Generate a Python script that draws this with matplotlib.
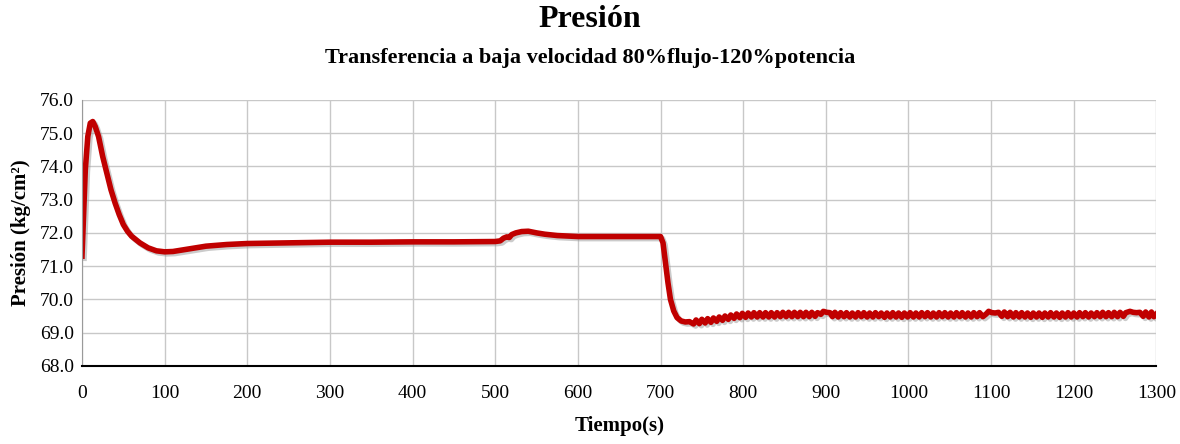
import matplotlib
matplotlib.use("Agg")
import matplotlib.pyplot as plt
import matplotlib.patheffects as pe
import numpy as np

# main transient (0 - 735 s)
t_main = [0, 2, 4, 7, 10, 13, 16, 20, 25, 30,
          35, 40, 45, 50, 55, 60, 70, 80, 90, 100,
          110, 125, 150, 175, 200, 250, 300, 350, 400, 450,
          500, 506, 510, 514, 517, 520, 525, 532, 540, 550,
          560, 575, 590, 600, 650, 700, 703, 706, 709, 712,
          716, 720, 725, 730, 735]
p_main = [71.30, 72.60, 73.90, 74.90, 75.30, 75.35, 75.20, 74.90, 74.30, 73.80,
          73.30, 72.90, 72.55, 72.25, 72.05, 71.90, 71.70, 71.55, 71.46, 71.43,
          71.44, 71.50, 71.60, 71.65, 71.68, 71.70, 71.72, 71.72, 71.73, 71.73,
          71.74, 71.76, 71.84, 71.88, 71.86, 71.95, 72.00, 72.04, 72.05, 72.00,
          71.96, 71.92, 71.90, 71.89, 71.89, 71.89, 71.70, 71.10, 70.50, 70.00,
          69.65, 69.45, 69.35, 69.32, 69.33]

# oscillating tail, read peak by peak
t_osc_a = [740, 743, 747, 750, 754, 757, 761, 764, 768, 771,
           775, 778, 782, 785, 789, 792, 796, 799, 803, 806,
           810, 813, 817, 820, 824, 827, 831, 834, 838, 841,
           845, 848, 852, 855, 859, 862, 866, 869, 873, 876,
           880, 883, 887, 890, 894, 897, 901, 905]
p_osc_a = [69.26, 69.38, 69.27, 69.40, 69.29, 69.42, 69.31, 69.44, 69.34, 69.47,
           69.37, 69.50, 69.40, 69.53, 69.43, 69.56, 69.45, 69.58, 69.46, 69.59,
           69.47, 69.60, 69.47, 69.60, 69.47, 69.60, 69.47, 69.60, 69.47, 69.60,
           69.48, 69.61, 69.48, 69.61, 69.48, 69.61, 69.48, 69.61, 69.48, 69.61,
           69.48, 69.61, 69.49, 69.60, 69.55, 69.64, 69.61, 69.60]

t_osc_b = [908, 911, 915, 918, 922, 925, 929, 932, 936, 939,
           943, 946, 950, 953, 957, 960, 964, 967, 971, 974,
           978, 981, 985, 988, 992, 995, 999, 1002, 1006, 1009,
           1013, 1016, 1020, 1023, 1027, 1030, 1034, 1037, 1041, 1044,
           1048, 1051, 1055, 1058, 1062, 1065, 1069, 1072, 1076, 1079,
           1083, 1086, 1090, 1094, 1097, 1101, 1105, 1109]
p_osc_b = [69.48, 69.61, 69.47, 69.60, 69.48, 69.60, 69.47, 69.59, 69.47, 69.60,
           69.48, 69.60, 69.47, 69.59, 69.47, 69.60, 69.48, 69.59, 69.46, 69.59,
           69.47, 69.60, 69.47, 69.59, 69.46, 69.59, 69.47, 69.60, 69.47, 69.59,
           69.47, 69.60, 69.48, 69.60, 69.47, 69.59, 69.47, 69.60, 69.48, 69.60,
           69.47, 69.59, 69.47, 69.60, 69.48, 69.60, 69.47, 69.59, 69.47, 69.60,
           69.48, 69.60, 69.48, 69.56, 69.64, 69.60, 69.59, 69.61]

t_osc_c = [1113, 1116, 1120, 1123, 1127, 1130, 1134, 1137, 1141, 1144,
           1148, 1151, 1155, 1158, 1162, 1165, 1169, 1172, 1176, 1179,
           1183, 1186, 1190, 1193, 1197, 1200, 1204, 1207, 1211, 1214,
           1218, 1221, 1225, 1228, 1232, 1235, 1239, 1242, 1246, 1249,
           1253, 1256, 1260, 1263, 1268, 1272, 1276, 1280, 1284, 1287,
           1291, 1294, 1297, 1300]
p_osc_c = [69.49, 69.62, 69.48, 69.61, 69.47, 69.60, 69.47, 69.60, 69.47, 69.59,
           69.46, 69.59, 69.47, 69.59, 69.46, 69.59, 69.47, 69.60, 69.47, 69.59,
           69.46, 69.59, 69.47, 69.60, 69.47, 69.59, 69.47, 69.60, 69.48, 69.60,
           69.47, 69.59, 69.48, 69.60, 69.48, 69.61, 69.48, 69.60, 69.48, 69.61,
           69.48, 69.61, 69.49, 69.60, 69.64, 69.61, 69.60, 69.61, 69.49, 69.62,
           69.47, 69.62, 69.48, 69.56]

x_ticks = list(range(0, 1301, 100))
y_ticks = [68.0, 69.0, 70.0, 71.0, 72.0, 73.0, 74.0, 75.0, 76.0]

t = t_main + t_osc_a + t_osc_b + t_osc_c
p = p_main + p_osc_a + p_osc_b + p_osc_c

plt.rcParams['font.family'] = ['Liberation Serif', 'DejaVu Serif']

fig = plt.figure(figsize=(11.8, 4.44), dpi=100)
ax = fig.add_axes([0.0695, 0.176, 0.9105, 0.599])

ax.plot(t, p, color='#C00000', lw=4, solid_joinstyle='round',
        path_effects=[pe.SimpleLineShadow(offset=(1.5, -1.5), shadow_color='#999999', alpha=0.5),
                      pe.Normal()])

ax.set_xlim(0, 1300)
ax.set_ylim(68, 76)
ax.set_xticks(x_ticks)
ax.set_yticks(y_ticks)
ax.set_yticklabels(['%.1f' % v for v in y_ticks])
ax.grid(True, color='#c8c8c8', lw=1)
ax.set_axisbelow(True)
ax.tick_params(length=0, labelsize=14)
ax.tick_params(axis='x', pad=14)
ax.tick_params(axis='y', pad=6)
for s in ['top', 'right']:
    ax.spines[s].set_visible(False)
ax.spines['left'].set_color('#9a9a9a')
ax.spines['bottom'].set_color('black')
ax.spines['bottom'].set_linewidth(1.5)

ax.set_xlabel('Tiempo(s)', fontsize=15, fontweight='bold', labelpad=10)
ax.set_ylabel('Presión (kg/cm²)', fontsize=15, fontweight='bold', labelpad=6)

fig.text(0.5, 0.957, 'Presión', ha='center', va='center', fontsize=23, fontweight='bold')
fig.text(0.5, 0.87, 'Transferencia a baja velocidad 80%flujo-120%potencia',
         ha='center', va='center', fontsize=16, fontweight='bold')

fig.savefig('out.png', dpi=100)
